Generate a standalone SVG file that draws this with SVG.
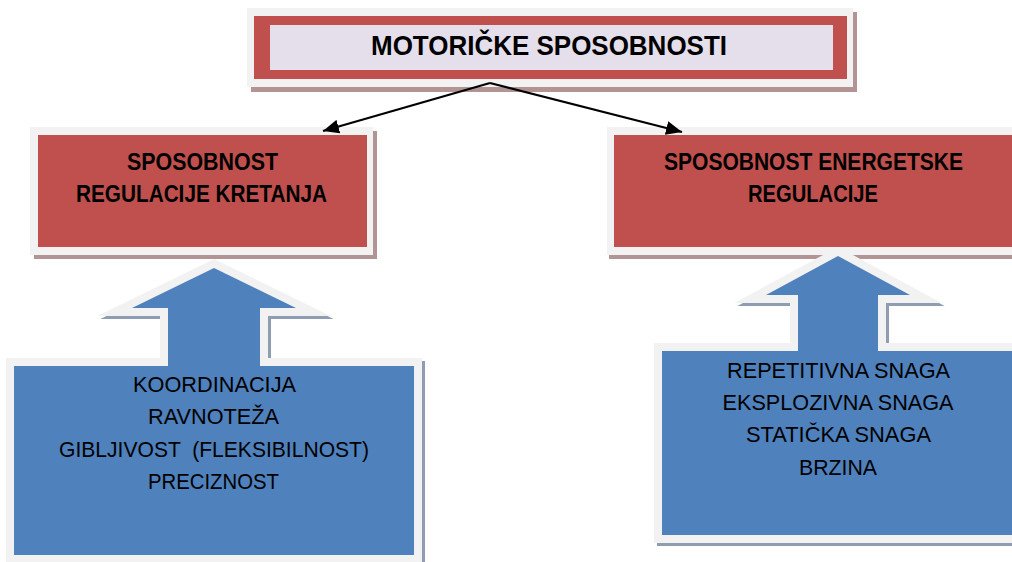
<svg xmlns="http://www.w3.org/2000/svg" width="1012" height="562" viewBox="0 0 1012 562">
<defs>
<style>
.frame{fill:#f2f2f2}
.rshadow{fill:#b39494}
.red{fill:#c0504d}
.lav{fill:#e5dfec}
.bshadow{fill:#8e9db1;stroke:#8e9db1;stroke-width:16;stroke-linejoin:miter;stroke-miterlimit:10}
.bframe{fill:#f2f2f2;stroke:#f2f2f2;stroke-width:16;stroke-linejoin:miter;stroke-miterlimit:10}
.blue{fill:#4f81bd}
.tb{font-family:"Liberation Sans",Arial,sans-serif;font-weight:bold;fill:#000;text-anchor:middle}
.tr{font-family:"Liberation Sans",Arial,sans-serif;fill:#000;text-anchor:middle;font-size:22.5px}
.conn{stroke:#000;stroke-width:2.2;fill:none}
</style>
<marker id="ah" markerUnits="userSpaceOnUse" markerWidth="18" markerHeight="14" refX="16" refY="7" orient="auto">
<path d="M0,0 L16,7 L0,14 Z" fill="#000"/>
</marker>
</defs>
<rect width="1012" height="562" fill="#fff"/>

<g id="top">
<rect class="rshadow" x="251" y="12" width="606" height="80"/>
<rect class="frame" x="247" y="8" width="606" height="79"/>
<rect class="red" x="254" y="16" width="593" height="63"/>
<rect class="lav" x="270" y="25" width="563" height="45"/>
<text class="tb" x="549" y="55" font-size="28" textLength="356" lengthAdjust="spacingAndGlyphs">MOTORIČKE SPOSOBNOSTI</text>
</g>

<g id="left-red">
<rect class="rshadow" x="34" y="131" width="343" height="128"/>
<rect class="frame" x="30" y="127" width="343" height="128"/>
<rect class="red" x="38" y="135" width="329" height="112"/>
<text class="tb" x="202.5" y="170" font-size="24" textLength="151" lengthAdjust="spacingAndGlyphs">SPOSOBNOST</text>
<text class="tb" x="201.5" y="202" font-size="24" textLength="251" lengthAdjust="spacingAndGlyphs">REGULACIJE KRETANJA</text>
</g>

<g id="right-red">
<rect class="rshadow" x="609" y="131" width="420" height="128"/>
<rect class="frame" x="607" y="127" width="420" height="128"/>
<rect class="red" x="614" y="135" width="410" height="112"/>
<text class="tb" x="813.5" y="170" font-size="24" textLength="299" lengthAdjust="spacingAndGlyphs">SPOSOBNOST ENERGETSKE</text>
<text class="tb" x="813" y="202" font-size="24" textLength="130" lengthAdjust="spacingAndGlyphs">REGULACIJE</text>
</g>

<g id="connectors">
<path class="conn" d="M490,83 L323,131" marker-end="url(#ah)"/>
<path class="conn" d="M490,83 L682,132" marker-end="url(#ah)"/>
</g>

<g id="left-blue">
<polygon class="bshadow" transform="translate(3,3)" points="14,366 168,366 168,308 132,308 214,268 296,308 260,308 260,366 414,366 414,555 14,555"/>
<polygon class="bframe" points="14,366 168,366 168,308 132,308 214,268 296,308 260,308 260,366 414,366 414,555 14,555"/>
<polygon class="blue" points="14,366 168,366 168,308 132,308 214,268 296,308 260,308 260,366 414,366 414,555 14,555"/>
<text class="tr" x="214.5" y="391.5" textLength="163" lengthAdjust="spacingAndGlyphs">KOORDINACIJA</text>
<text class="tr" x="213.5" y="424" textLength="131" lengthAdjust="spacingAndGlyphs">RAVNOTEŽA</text>
<text class="tr" x="214" y="457" textLength="310" lengthAdjust="spacingAndGlyphs" xml:space="preserve" style="white-space:pre">GIBLJIVOST  (FLEKSIBILNOST)</text>
<text class="tr" x="213.5" y="489" textLength="131" lengthAdjust="spacingAndGlyphs">PRECIZNOST</text>
</g>

<g id="right-blue">
<polygon class="bshadow" transform="translate(3,3)" points="662,351 798,351 798,295 766,295 838,256 910,295 878,295 878,351 1030,351 1030,535 662,535"/>
<polygon class="bframe" points="662,351 798,351 798,295 766,295 838,256 910,295 878,295 878,351 1030,351 1030,535 662,535"/>
<polygon class="blue" points="662,351 798,351 798,295 766,295 838,256 910,295 878,295 878,351 1030,351 1030,535 662,535"/>
<text class="tr" x="838.5" y="378" textLength="223" lengthAdjust="spacingAndGlyphs">REPETITIVNA SNAGA</text>
<text class="tr" x="838" y="410" textLength="231" lengthAdjust="spacingAndGlyphs">EKSPLOZIVNA SNAGA</text>
<text class="tr" x="838.5" y="442" textLength="185" lengthAdjust="spacingAndGlyphs">STATIČKA SNAGA</text>
<text class="tr" x="838" y="475" textLength="78" lengthAdjust="spacingAndGlyphs">BRZINA</text>
</g>
</svg>
